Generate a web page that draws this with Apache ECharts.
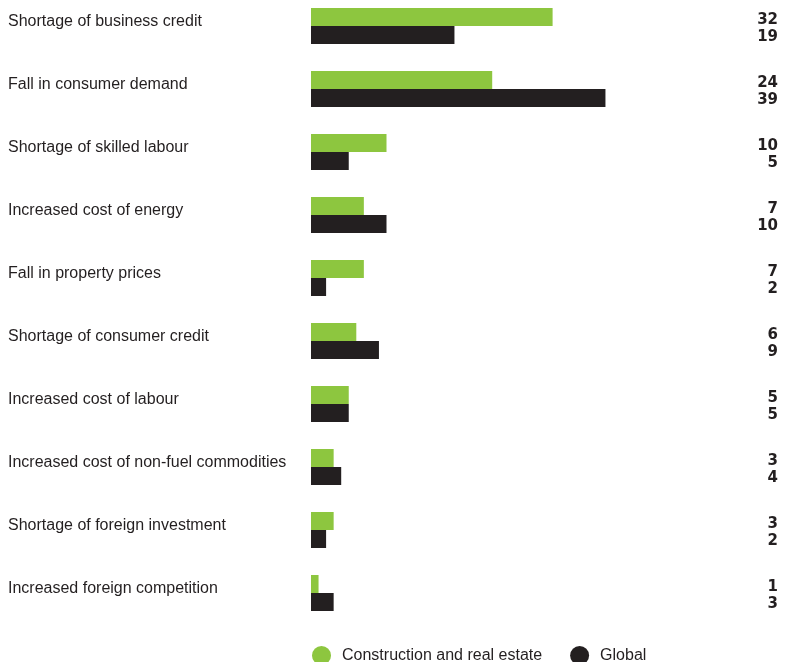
<!DOCTYPE html>
<html>
<head>
<meta charset="utf-8">
<script src="https://cdn.jsdelivr.net/npm/echarts@6/dist/echarts.min.js"></script>
<style>
  html, body { margin: 0; padding: 0; background: #fff; }
  #chart { width: 792px; height: 662px; }
</style>
</head>
<body>
<div id="chart"></div>
<script>
// data
const categories = [
  'Shortage of business credit',
  'Fall in consumer demand',
  'Shortage of skilled labour',
  'Increased cost of energy',
  'Fall in property prices',
  'Shortage of consumer credit',
  'Increased cost of labour',
  'Increased cost of non-fuel commodities',
  'Shortage of foreign investment',
  'Increased foreign competition'
]
const constructionValues = [32, 24, 10, 7, 7, 6, 5, 3, 3, 1]
const globalValues = [19, 39, 5, 10, 2, 9, 5, 4, 2, 3]

const GREEN = '#8dc63f'
const DARK = '#231f20'
const LABEL_FONT = '"Liberation Sans Narrow", "Liberation Sans", sans-serif'

const chart = echarts.init(document.getElementById('chart'))

chart.setOption({
  animation: false,
  grid: {
    left: 311,
    top: 26,
    width: 302,
    height: 567,
    containLabel: false
  },
  xAxis: {
    type: 'value',
    min: 0,
    max: 40,
    show: false
  },
  yAxis: [
    {
      type: 'category',
      data: categories,
      inverse: true,
      boundaryGap: false,
      axisLine: { show: false },
      axisTick: { show: false },
      splitLine: { show: false },
      axisLabel: {
        interval: 0,
        align: 'left',
        margin: 303,
        fontFamily: LABEL_FONT,
        fontSize: 16,
        color: DARK,
        // blank second line lifts the label up to the green bar
        lineHeight: 9,
        formatter: v => v + '\n '
      }
    },
    {
      type: 'category',
      data: categories,
      inverse: true,
      boundaryGap: false,
      position: 'right',
      axisLine: { show: false },
      axisTick: { show: false },
      splitLine: { show: false },
      axisLabel: {
        interval: 0,
        align: 'right',
        margin: 165,
        padding: [5, 0, 0, 0],
        // two stacked numbers: construction on top, global below
        formatter: (val, i) => '{g|' + constructionValues[i] + '}\n{k|' + globalValues[i] + '}',
        rich: {
          g: { fontFamily: 'DejaVu Sans', fontWeight: 'bold', fontSize: 15, lineHeight: 17, color: DARK },
          k: { fontFamily: 'DejaVu Sans', fontWeight: 'bold', fontSize: 15, lineHeight: 17, color: DARK }
        }
      }
    }
  ],
  legend: {
    left: 307,
    top: 641,
    icon: 'circle',
    itemWidth: 19,
    itemHeight: 19,
    itemGap: 28,
    textStyle: {
      fontFamily: LABEL_FONT,
      fontSize: 16,
      color: DARK,
      padding: [0, 0, 0, 6]
    },
    data: ['Construction and real estate', 'Global']
  },
  series: [
    {
      name: 'Construction and real estate',
      type: 'bar',
      data: constructionValues,
      barWidth: 18,
      barGap: '0%',
      itemStyle: { color: GREEN },
      silent: true
    },
    {
      name: 'Global',
      type: 'bar',
      data: globalValues,
      barWidth: 18,
      barGap: '0%',
      itemStyle: { color: DARK },
      silent: true
    }
  ]
})
</script>
</body>
</html>
